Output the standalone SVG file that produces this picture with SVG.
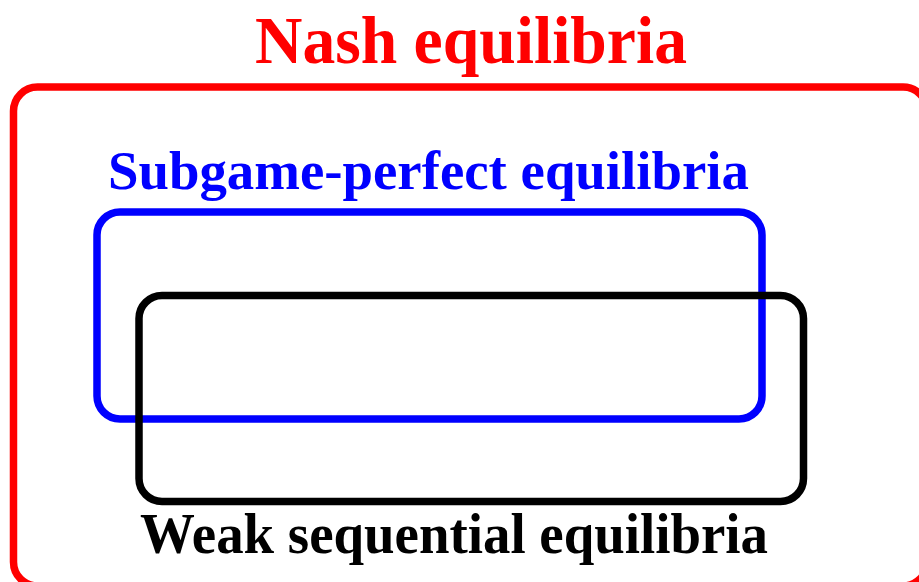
<svg xmlns="http://www.w3.org/2000/svg" width="919" height="582" viewBox="0 0 919 582">
<style>
.box{fill:none;stroke-width:7.5}
.lbl{font-family:"Liberation Serif","Times New Roman",serif;font-weight:bold;text-anchor:middle}
</style>
<rect width="919" height="582" fill="#fff"/>
<g id="nash">
<rect class="box" x="13.5" y="87" width="913.5" height="499" rx="24" stroke="#ff0000"/>
<text class="lbl" x="471" y="63" font-size="68" fill="#ff0000" textLength="432" lengthAdjust="spacingAndGlyphs">Nash equilibria</text>
</g>
<g id="spe">
<rect class="box" x="97" y="212" width="665" height="207" rx="23" stroke="#0000ff"/>
<text class="lbl" x="428.5" y="189" font-size="55" fill="#0000ff" textLength="641" lengthAdjust="spacingAndGlyphs">Subgame-perfect equilibria</text>
</g>
<g id="wse">
<rect class="box" x="139" y="295.5" width="664.5" height="206" rx="23" stroke="#000"/>
<text class="lbl" x="454" y="553" font-size="57" fill="#000" textLength="628" lengthAdjust="spacingAndGlyphs">Weak sequential equilibria</text>
</g>
<g id="connectors"></g>
</svg>
